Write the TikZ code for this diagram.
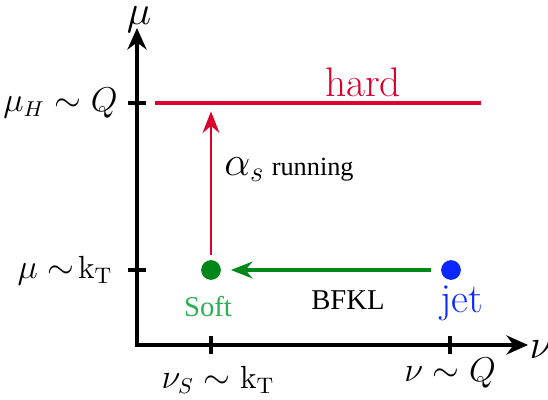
\documentclass[tikz,border=0pt]{standalone}
\usepackage{fontspec}
\newfontfamily\timesfont{Liberation Serif}
\usetikzlibrary{arrows.meta}

\definecolor{hardred}{RGB}{220,0,45}
\definecolor{dotgreen}{RGB}{0,135,25}
\definecolor{softtext}{RGB}{45,175,85}
\definecolor{jetblue}{RGB}{10,40,255}

\tikzset{
  axis/.style={line width=1.3pt,line join=miter,{Stealth[length=9pt,width=8pt]}-{Stealth[length=9pt,width=8pt]}},
  tick/.style={line width=1.3pt},
  dot/.style={circle,inner sep=0pt,minimum size=0.29cm},
  ticklabel/.style={inner sep=0pt,font=\fontsize{13.4}{16}\selectfont},
}

\begin{document}
\begin{tikzpicture}[x=0.0147cm,y=-0.0147cm]
  \useasboundingbox (0,0) rectangle (548,400);

  \coordinate (Ytop) at (137,28);
  \coordinate (O) at (137,345);
  \coordinate (Xend) at (528,345);

  % osys
  \draw[axis] (Ytop) -- (O) -- (Xend);
  \node[inner sep=0pt] (mu) at (139,20) {\LARGE $\mu$};
  \node[inner sep=0pt] (nu) at (541,350) {\LARGE $\nu$};

  % ticks
  \draw[tick] (128,103) -- (146,103);
  \draw[tick] (128,270) -- (146,270);
  \draw[tick] (211,336) -- (211,354);
  \draw[tick] (450,336) -- (450,354);

  \node[ticklabel,anchor=east] (muH) at (118,103) {$\mu_H \sim Q$};
  \node[ticklabel,anchor=east] (muS) at (113,271) {$\mu \sim\!\mathrm{k}_{\mathrm{T}}$};
  \node[ticklabel] (nuS) at (218,380) {$\nu_S \sim \mathrm{k}_{\mathrm{T}}$};
  \node[ticklabel] (nuJ) at (450,373) {$\nu \sim Q$};

  % hard
  \coordinate (H1) at (155,103);
  \coordinate (H2) at (481,103);
  \coordinate (Hs) at (211,103);
  \draw[hardred,line width=1.9pt] (H1) -- (H2);
  \node[text=hardred] (hard) at (363,82) {\LARGE hard};

  % soft + jet
  \node[dot,fill=dotgreen] (soft) at (211,270) {};
  \node[dot,fill=jetblue] (jet) at (451,270) {};
  \node[text=softtext] (softlbl) at (208,307) {\large\timesfont Soft};
  \node[text=jetblue] (jetlbl) at (462,303) {\LARGE jet};

  \draw[hardred,line width=1.2pt,-{Stealth[length=9pt,width=7pt]},shorten <=2pt,shorten >=3.5pt] (soft) -- (Hs);
  \node[right] (alpha) at (216,170) {\LARGE $\alpha_s$\hspace{3pt}{\fontsize{11}{13}\selectfont\timesfont running}};

  \draw[dotgreen,line width=1.3pt,-{Stealth[length=9pt,width=7pt]},shorten <=4pt,shorten >=4pt] (jet) -- (soft);
  \node (bfkl) at (348,300) {\large\timesfont BFKL};
\end{tikzpicture}
\end{document}
